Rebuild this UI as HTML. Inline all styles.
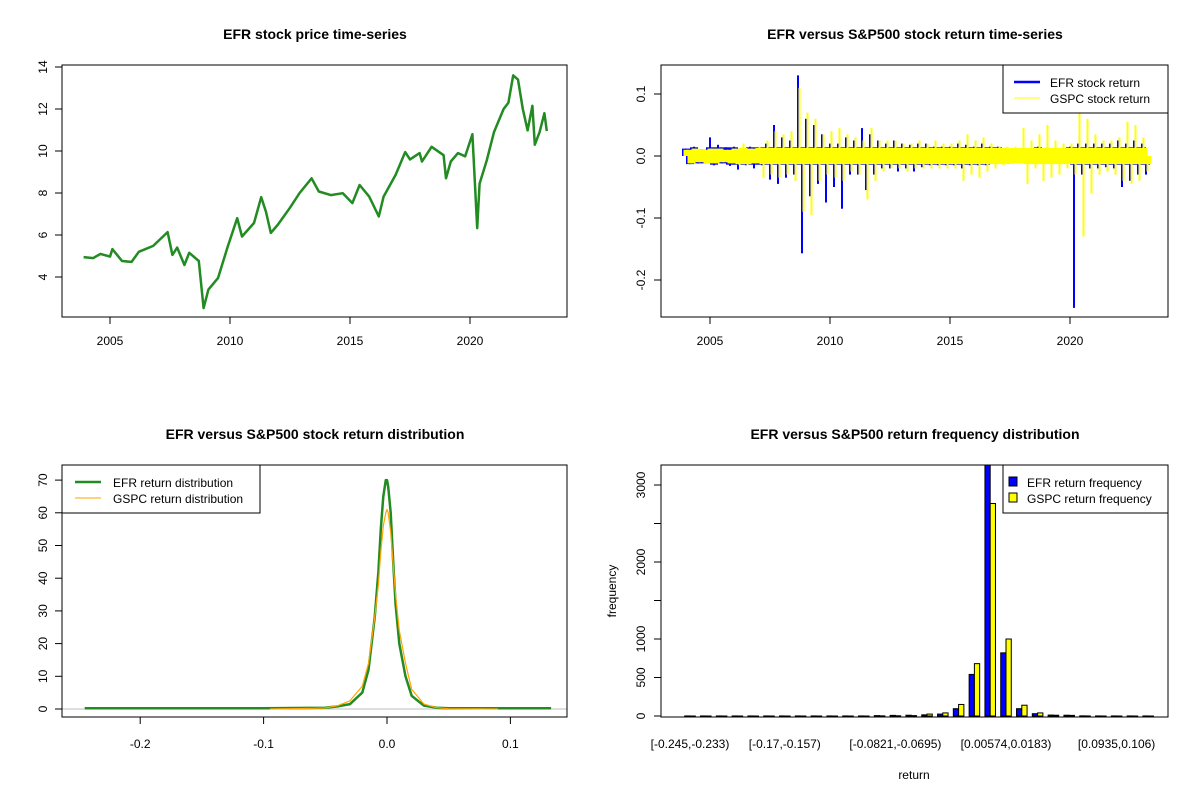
<!DOCTYPE html>
<html><head><meta charset="utf-8"><style>
body{margin:0;background:#fff}
svg{display:block;font-family:"Liberation Sans",Arial,sans-serif}
text{fill:#000}
</style></head><body>
<svg id="s" width="1200" height="800" viewBox="0 0 1200 800">
<rect width="1200" height="800" fill="#fff"/>
<g font-weight="bold" font-size="14" text-anchor="middle">
<text x="315" y="39">EFR stock price time-series</text>
<text x="915" y="39">EFR versus S&amp;P500 stock return time-series</text>
<text x="315" y="439">EFR versus S&amp;P500 stock return distribution</text>
<text x="915" y="439">EFR versus S&amp;P500 return frequency distribution</text>
</g>
</svg>
<script>
const priceYears=[2003.9,2004.3,2004.6,2005.0,2005.1,2005.5,2005.9,2006.2,2006.8,2007.4,2007.6,2007.8,2008.1,2008.3,2008.7,2008.9,2009.1,2009.5,2009.9,2010.3,2010.5,2011.0,2011.3,2011.5,2011.7,2012.0,2012.5,2012.9,2013.4,2013.7,2014.2,2014.7,2015.1,2015.4,2015.8,2016.2,2016.4,2016.9,2017.3,2017.5,2017.9,2018.0,2018.4,2018.9,2019.0,2019.2,2019.5,2019.8,2020.1,2020.3,2020.4,2020.7,2021.0,2021.4,2021.6,2021.8,2022.0,2022.2,2022.4,2022.6,2022.7,2022.9,2023.1,2023.2];
const priceValues=[4.95,4.9,5.1,4.97,5.33,4.76,4.72,5.2,5.48,6.14,5.05,5.4,4.57,5.15,4.76,2.52,3.4,3.95,5.43,6.8,5.93,6.57,7.8,7.1,6.1,6.5,7.3,8.0,8.7,8.07,7.9,7.99,7.52,8.38,7.83,6.88,7.83,8.86,9.95,9.6,9.9,9.5,10.2,9.8,8.7,9.5,9.9,9.75,10.8,6.33,8.45,9.56,10.9,12.0,12.3,13.6,13.4,12.0,10.98,12.15,10.3,10.9,11.8,10.95];
const priceTicks=[4,6,8,10,12,14];
const yearTicks=[2005,2010,2015,2020];
const efrReturns=[0.012,-0.013,0.015,-0.012,0.01,-0.012,0.03,-0.015,0.018,-0.012,0.014,-0.016,0.015,-0.022,0.012,-0.015,0.015,-0.02,0.014,-0.015,0.02,-0.038,0.05,-0.045,0.03,-0.035,0.025,-0.03,0.13,-0.157,0.06,-0.065,0.05,-0.045,0.035,-0.075,0.02,-0.05,0.02,-0.085,0.03,-0.03,0.025,-0.03,0.045,-0.055,0.035,-0.03,0.025,-0.02,0.02,-0.02,0.025,-0.025,0.02,-0.02,0.018,-0.025,0.02,-0.018,0.02,-0.015,0.015,-0.015,0.015,-0.015,0.015,-0.015,0.02,-0.02,0.018,-0.015,0.015,-0.015,0.02,-0.015,0.015,-0.012,0.015,-0.012,0.012,-0.012,0.01,-0.01,0.012,-0.01,0.012,-0.01,0.015,-0.012,0.012,-0.01,0.01,-0.01,0.01,-0.01,0.015,-0.245,0.02,-0.03,0.02,-0.02,0.02,-0.02,0.02,-0.018,0.02,-0.02,0.025,-0.05,0.02,-0.04,0.025,-0.03,0.02,-0.03];
const gspcReturns=[0.01,-0.012,0.012,-0.01,0.01,-0.012,0.012,-0.012,0.012,-0.01,0.01,-0.012,0.012,-0.015,0.02,-0.015,0.012,-0.012,0.015,-0.035,0.025,-0.03,0.04,-0.035,0.035,-0.03,0.04,-0.04,0.11,-0.09,0.07,-0.095,0.06,-0.04,0.035,-0.03,0.04,-0.035,0.045,-0.04,0.035,-0.025,0.03,-0.03,0.025,-0.07,0.045,-0.04,0.025,-0.025,0.025,-0.02,0.025,-0.02,0.02,-0.025,0.02,-0.02,0.025,-0.02,0.02,-0.02,0.025,-0.02,0.02,-0.02,0.02,-0.02,0.025,-0.04,0.035,-0.03,0.025,-0.035,0.03,-0.025,0.02,-0.02,0.015,-0.015,0.015,-0.012,0.015,-0.012,0.045,-0.045,0.025,-0.02,0.035,-0.04,0.05,-0.035,0.025,-0.03,0.02,-0.02,0.02,-0.03,0.07,-0.13,0.06,-0.06,0.035,-0.03,0.025,-0.025,0.025,-0.03,0.03,-0.04,0.055,-0.045,0.05,-0.04,0.03,-0.025];
const returnStartYear=2004.0, returnStep=1/6;
const returnTicks=[0.1,0.0,-0.1,-0.2];
const returnTickLabels=["0.1","0.0","-0.1","-0.2"];
const efrDensX=[-0.245,-0.1,-0.05,-0.04,-0.03,-0.02,-0.015,-0.01,-0.007,-0.005,-0.003,-0.001,0,0.001,0.003,0.005,0.007,0.01,0.015,0.02,0.03,0.04,0.05,0.133];
const efrDensY=[0.2,0.2,0.4,0.8,1.5,5,12,28,42,55,65,70,70,68,60,45,32,20,10,4,1,0.4,0.2,0.2];
const gspcDensX=[-0.095,-0.06,-0.05,-0.04,-0.03,-0.02,-0.015,-0.01,-0.007,-0.005,-0.003,-0.001,0,0.001,0.003,0.005,0.007,0.01,0.015,0.02,0.03,0.04,0.05,0.09];
const gspcDensY=[0,0.2,0.3,1,2.5,7,14,28,38,48,56,60,61,60,54,44,35,24,14,6,1.5,0.4,0.1,0];
const densTicksX=[-0.2,-0.1,0.0,0.1];
const densTickLabelsX=["-0.2","-0.1","0.0","0.1"];
const densTicksY=[0,10,20,30,40,50,60,70];
const binLabels=["[-0.245,-0.233)","","","","","","[-0.17,-0.157)","","","","","","","[-0.0821,-0.0695)","","","","","","","[0.00574,0.0183)","","","","","","","[0.0935,0.106)","",""];
const efrFreq=[1,1,1,1,1,1,1,1,1,1,1,1,5,8,10,15,25,95,540,3400,820,95,30,12,10,2,1,1,1,1];
const gspcFreq=[0,0,0,0,0,0,0,0,0,0,0,0,2,3,5,25,40,150,680,2760,1000,140,40,10,8,1,0,0,0,0];
const freqTicks=[0,500,1000,1500,2000,2500,3000];
const freqTickLabels=["0","500","1000","","2000","","3000"];

const NS="http://www.w3.org/2000/svg";
const svg=document.getElementById('s');
function mk(tag,attrs,parent){const e=document.createElementNS(NS,tag);for(const k in attrs)e.setAttribute(k,attrs[k]);(parent||svg).appendChild(e);return e;}
function txt(x,y,s,anchor,rot,parent){const t=mk('text',{x:x,y:y,'font-size':12,'text-anchor':anchor||'middle'},parent);if(rot)t.setAttribute('transform','rotate(-90 '+x+' '+y+')');t.textContent=s;return t;}

// ---------- Panel 1: price ----------
const yearX=y=>110+(y-2005)*24;
const priceY=v=>277-(v-4)*21;
let g=mk('g',{});


let pts=priceYears.map((y,i)=>yearX(y).toFixed(1)+','+priceY(priceValues[i]).toFixed(1)).join(' ');
let pl=mk('polyline',{points:pts,fill:'none',stroke:'#228B22','stroke-width':2.5,'stroke-linejoin':'round'},g);


let box=mk('rect',{x:62,y:65,width:505,height:252,fill:'none',stroke:'#000'},g);


priceTicks.forEach(v=>{const y=priceY(v);mk('line',{x1:55,x2:62,y1:y,y2:y,stroke:'#000'},g);
 const t=txt(47,y,String(v),'middle',true,g);
 
 });
yearTicks.forEach(v=>{const x=yearX(v);mk('line',{x1:x,x2:x,y1:317,y2:324,stroke:'#000'},g);
 const t=txt(x,345,String(v),'middle',false,g);
 
 });

// ---------- Panel 2: returns ----------
const rX=y=>710+(y-2005)*24;
const rY=v=>156-v*620;
g=mk('g',{});


const stepPx=returnStep*24;
function drawReturns(arr,color,name,off,coreMax){
 arr.forEach((v,i)=>{
  const x=rX(returnStartYear+i*returnStep)+off;
  const core=Math.sign(v)*Math.min(Math.abs(v),coreMax);
  const r=mk('rect',{x:(x-stepPx).toFixed(1),y:Math.min(rY(0),rY(core)).toFixed(1),width:(stepPx*2).toFixed(1),height:Math.abs(rY(core)-rY(0)).toFixed(1),fill:color},g);
  
  
  const l=mk('line',{x1:x.toFixed(1),x2:x.toFixed(1),y1:rY(0),y2:rY(v).toFixed(1),stroke:color,'stroke-width':2},g);
  
  
 });
}
drawReturns(efrReturns,'#0000ff','efr-return',0,0.014);
drawReturns(gspcReturns,'#ffff00','gspc-return',1.5,0.013);
box=mk('rect',{x:661,y:65,width:507,height:252,fill:'none',stroke:'#000'},g);


returnTicks.forEach((v,i)=>{const y=rY(v);mk('line',{x1:654,x2:661,y1:y,y2:y,stroke:'#000'},g);
 const t=txt(645,y,returnTickLabels[i],'middle',true,g);
 
 });
yearTicks.forEach(v=>{const x=rX(v);mk('line',{x1:x,x2:x,y1:317,y2:324,stroke:'#000'},g);
 const t=txt(x,345,String(v),'middle',false,g);
 
 });
let lg=mk('g',{},g);


mk('rect',{x:1003,y:65,width:165,height:48,fill:'#fff',stroke:'#000'},lg);
mk('line',{x1:1014,x2:1040,y1:82,y2:82,stroke:'#0000ff','stroke-width':2.5},lg);
mk('line',{x1:1014,x2:1040,y1:98,y2:98,stroke:'#ffff00','stroke-width':1},lg);
txt(1050,87,'EFR stock return','start',false,lg);
txt(1050,103,'GSPC stock return','start',false,lg);

// ---------- Panel 3: density ----------
const dX=v=>387+v*1234;
const dY=v=>709-v*3.27;
g=mk('g',{});


let zl=mk('line',{x1:62,x2:567,y1:dY(0),y2:dY(0),stroke:'#bebebe'},g);


pts=efrDensX.map((x,i)=>dX(x).toFixed(1)+','+dY(efrDensY[i]).toFixed(1)).join(' ');
pl=mk('polyline',{points:pts,fill:'none',stroke:'#228B22','stroke-width':2.5,'stroke-linejoin':'round'},g);


pts=gspcDensX.map((x,i)=>dX(x).toFixed(1)+','+dY(gspcDensY[i]).toFixed(1)).join(' ');
pl=mk('polyline',{points:pts,fill:'none',stroke:'#FFA500','stroke-width':1.2,'stroke-linejoin':'round'},g);


box=mk('rect',{x:62,y:465,width:505,height:252,fill:'none',stroke:'#000'},g);


densTicksY.forEach(v=>{const y=dY(v);mk('line',{x1:55,x2:62,y1:y,y2:y,stroke:'#000'},g);
 const t=txt(47,y,String(v),'middle',true,g);
 
 });
densTicksX.forEach((v,i)=>{const x=dX(v);mk('line',{x1:x,x2:x,y1:717,y2:724,stroke:'#000'},g);
 const t=txt(x,748,densTickLabelsX[i],'middle',false,g);
 
 });
lg=mk('g',{},g);


mk('rect',{x:62,y:465,width:198,height:48,fill:'#fff',stroke:'#000'},lg);
mk('line',{x1:75,x2:101,y1:482,y2:482,stroke:'#228B22','stroke-width':2.5},lg);
mk('line',{x1:75,x2:101,y1:498,y2:498,stroke:'#FFA500','stroke-width':1},lg);
txt(113,487,'EFR return distribution','start',false,lg);
txt(113,503,'GSPC return distribution','start',false,lg);

// ---------- Panel 4: histogram ----------
const gX=i=>690+i*15.8;
const bw=5.27;
const fY=v=>716-v*0.077;
g=mk('g',{});


const clip=mk('clipPath',{id:'c4'},g);mk('rect',{x:661,y:465,width:507,height:252},clip);
const bars=mk('g',{'clip-path':'url(#c4)'},g);
efrFreq.forEach((v,i)=>{const y=fY(v);const r=mk('rect',{x:gX(i)-bw,y:y,width:bw,height:Math.max(716-y,0.01),fill:'#0000ff',stroke:'#000','stroke-width':1},bars);
 
 });
gspcFreq.forEach((v,i)=>{const y=fY(v);const r=mk('rect',{x:gX(i),y:y,width:bw,height:Math.max(716-y,0.01),fill:'#ffff00',stroke:'#000','stroke-width':1},bars);
 
 });
box=mk('rect',{x:661,y:465,width:507,height:252,fill:'none',stroke:'#000'},g);


freqTicks.forEach((v,i)=>{const y=fY(v);mk('line',{x1:654,x2:661,y1:y,y2:y,stroke:'#000'},g);
 if(freqTickLabels[i]){const t=txt(645,y,freqTickLabels[i],'middle',true,g);
 
 }});
binLabels.forEach((s,i)=>{if(!s)return;const t=txt(gX(i),748,s,'middle',false,g);
 
 });
let at=txt(914,779,'return','middle',false,g);


at=txt(616,591,'frequency','middle',true,g);


lg=mk('g',{},g);


mk('rect',{x:1003,y:465,width:165,height:48,fill:'#fff',stroke:'#000'},lg);
mk('rect',{x:1009,y:477,width:8,height:9,fill:'#0000ff',stroke:'#000'},lg);
mk('rect',{x:1009,y:493,width:8,height:9,fill:'#ffff00',stroke:'#000'},lg);
txt(1027,487,'EFR return frequency','start',false,lg);
txt(1027,503,'GSPC return frequency','start',false,lg);
</script>
</body></html>
